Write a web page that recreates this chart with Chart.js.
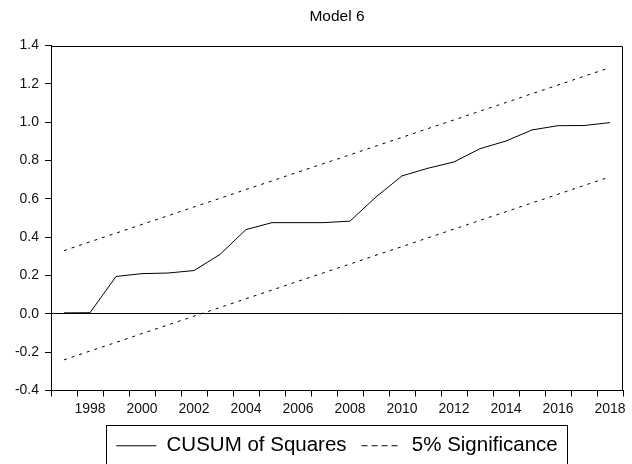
<!DOCTYPE html>
<html>
<head>
<meta charset="utf-8">
<script src="https://cdn.jsdelivr.net/npm/chart.js@4.4.0/dist/chart.umd.min.js"></script>
<style>
    html, body { margin: 0; padding: 0; background: #fff; }
</style>
</head>
<body>
<canvas id="chart" width="632" height="464"></canvas>
<script>
// values
const years = ['1997', '1998', '1999', '2000', '2001', '2002', '2003', '2004', '2005', '2006', '2007',
    '2008', '2009', '2010', '2011', '2012', '2013', '2014', '2015', '2016', '2017', '2018'];
const cusumSq = [0.005, 0.006, 0.195, 0.21, 0.213, 0.226, 0.31, 0.44, 0.476, 0.476, 0.476,
    0.484, 0.61, 0.72, 0.76, 0.793, 0.862, 0.902, 0.96, 0.982, 0.983, 0.998];
const upper5 = [0.33, 0.376, 0.421, 0.467, 0.512, 0.558, 0.603, 0.649, 0.694, 0.74, 0.785,
    0.83, 0.876, 0.921, 0.967, 1.012, 1.058, 1.103, 1.149, 1.194, 1.24, 1.285];
const lower5 = [-0.24, -0.194, -0.149, -0.103, -0.058, -0.012, 0.033, 0.079, 0.124, 0.17, 0.215,
    0.26, 0.306, 0.351, 0.397, 0.442, 0.488, 0.533, 0.579, 0.624, 0.67, 0.715];
const yMin = -0.4, yMax = 1.4, yStep = 0.2;

const fontFamily = '"Liberation Sans", Arial, sans-serif';

// top/right edges of the plot box, and the box round the legend
const framePlugin = {
    id: 'frame',
    afterDraw: function (chart) {
        const ctx = chart.ctx;
        const a = chart.chartArea;
        let l = Math.round(a.left) + 0.5, t = Math.round(a.top) + 0.5;
        let r = Math.round(a.right) - 0.5, b = Math.round(a.bottom);
        ctx.save();
        ctx.strokeStyle = '#000';
        ctx.lineWidth = 1;
        ctx.beginPath();
        ctx.moveTo(l, t);
        ctx.lineTo(r, t);
        ctx.lineTo(r, b);
        ctx.stroke();

        let boxes = chart.legend.legendHitBoxes;
        if (boxes && boxes.length) {
            let left = boxes[0].left;
            let right = boxes[boxes.length - 1].left + boxes[boxes.length - 1].width;
            let top = a.bottom + 34;
            ctx.strokeRect(Math.round(left - 10) + 0.5, Math.round(top) + 0.5,
                Math.round(right - left + 20), 100);
        }
        ctx.restore();
    }
};

new Chart(document.getElementById('chart'), {
    type: 'line',
    data: {
        labels: years,
        datasets: [
            {
                label: 'CUSUM of Squares',
                data: cusumSq,
                borderColor: '#000',
                borderWidth: 1,
                pointRadius: 0,
                tension: 0
            },
            {
                label: '5% Significance',
                data: upper5,
                borderColor: '#000',
                borderWidth: 1,
                borderDash: [3, 5],
                pointRadius: 0,
                tension: 0
            },
            {
                label: 'lower',
                data: lower5,
                borderColor: '#000',
                borderWidth: 1,
                borderDash: [3, 5],
                pointRadius: 0,
                tension: 0
            }
        ]
    },
    options: {
        responsive: false,
        animation: false,
        layout: {padding: {left: 0, right: 9, top: 0, bottom: -2}},
        plugins: {
            title: {
                display: true,
                text: 'Model 6',
                fullSize: false,
                color: '#000',
                font: {family: fontFamily, size: 15.5, weight: 'normal'},
                padding: {top: 7, bottom: 20}
            },
            legend: {
                position: 'bottom',
                fullSize: false,
                labels: {
                    color: '#000',
                    font: {family: fontFamily, size: 20.5},
                    usePointStyle: true,
                    pointStyle: 'line',
                    pointStyleWidth: 40,
                    boxWidth: 40,
                    padding: 15,
                    generateLabels: function (chart) {
                        let items = Chart.defaults.plugins.legend.labels.generateLabels(chart);
                        items.forEach(function (item) {
                            let ds = chart.data.datasets[item.datasetIndex];
                            item.lineDash = ds.borderDash ? [6, 4] : [];
                        });
                        return items.filter(function (item) {
                            return item.text !== 'lower';
                        });
                    }
                }
            },
            tooltip: {enabled: false}
        },
        scales: {
            x: {
                type: 'category',
                offset: true,
                grid: {
                    offset: true,
                    drawOnChartArea: false,
                    tickLength: 6,
                    tickColor: '#000'
                },
                border: {display: true, color: '#000'},
                ticks: {
                    autoSkip: false,
                    maxRotation: 0,
                    color: '#111',
                    padding: 4,
                    font: {family: fontFamily, size: 14},
                    callback: function (value, index) {
                        let y = years[index];
                        return Number(y) % 2 === 0 ? y : '';
                    }
                },
                afterFit: function (scale) {
                    scale.height = 30;
                }
            },
            y: {
                min: yMin,
                max: yMax,
                grid: {
                    tickLength: 6,
                    tickColor: '#000',
                    color: function (c) {
                        return Math.abs(c.tick.value) < 1e-9 ? '#000' : 'rgba(0,0,0,0)';
                    }
                },
                border: {display: true, color: '#000'},
                ticks: {
                    stepSize: yStep,
                    color: '#111',
                    padding: 6,
                    font: {family: fontFamily, size: 14},
                    callback: function (value) {
                        return (Math.round(value * 10) / 10 + 0).toFixed(1);
                    }
                },
                afterFit: function (scale) {
                    scale.width = 51;
                }
            }
        }
    },
    plugins: [framePlugin]
});
</script>
</body>
</html>
